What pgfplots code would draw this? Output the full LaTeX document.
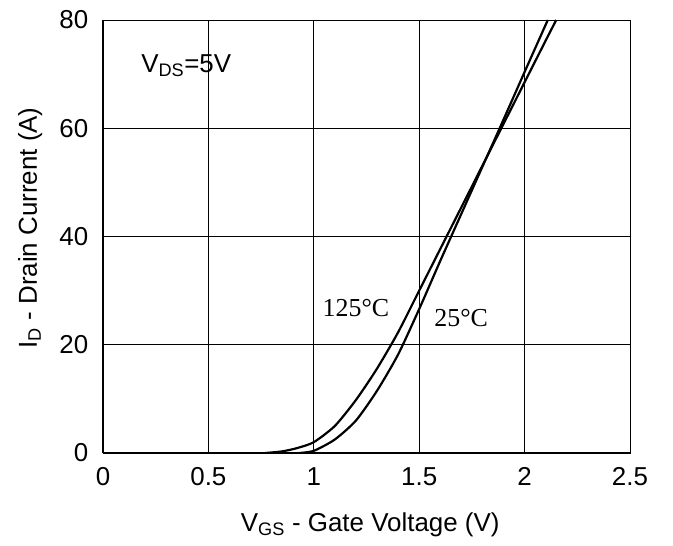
\documentclass[border=0pt]{standalone}
\usepackage{fontspec}
\setmainfont{Liberation Sans}
\newfontfamily\serifa{Liberation Serif}
\usepackage{pgfplots}
\pgfplotsset{compat=1.18}

\begin{document}
\fontsize{26}{30}\selectfont
\begin{tikzpicture}
\begin{axis}[
  scale only axis,
  width=527bp, height=433bp,
  xmin=0, xmax=2.5, ymin=0, ymax=80,
  xtick={0,0.5,1,1.5,2,2.5},
  xticklabels={0,0.5,1,1.5,2,2.5},
  ytick={0,20,40,60,80},
  /pgf/number format/assume math mode=true,
  grid=major,
  major grid style={black, line width=0.9pt},
  tick style={draw=none},
  axis line style={black, line width=0.9pt},
  yticklabel style={xshift=-6bp},
  xticklabel style={yshift=-6bp},
  xlabel={V\textsubscript{GS} - Gate Voltage (V)},
  ylabel={I\textsubscript{D} - Drain Current (A)},
  xlabel style={at={(axis description cs:0.507,-0.166)}, anchor=center},
  ylabel style={at={(axis description cs:-0.138,0.52)}, anchor=center},
  clip=true,
]
% 125 C
\addplot[black, line width=2.2pt, smooth, tension=0.4] coordinates {
  (0.77,0) (0.85,0.3) (0.92,0.9) (1.0,2.0) (1.1,5.0) (1.2,9.8)
  (1.3,15.6) (1.4,22.3) (1.5,30.0) (1.6,37.7) (1.7,45.4) (1.8,53.1)
  (1.9,60.8) (2.0,68.5) (2.1,76.2) (2.15,80)
};
% 25 C
\addplot[black, line width=2.2pt, smooth, tension=0.4] coordinates {
  (0.93,0) (1.0,0.4) (1.1,2.5) (1.2,6.0) (1.3,11.5) (1.4,18.2)
  (1.5,26.6) (1.6,35.5) (1.7,44.2) (1.8,52.9) (1.9,61.6)
  (2.0,70.4) (2.11,80)
};
\node[anchor=west] at (axis cs:0.14,71.5) {V\textsubscript{DS}=5V};
\node[anchor=center, font=\serifa] at (axis cs:1.2,26.8) {125\textdegree C};
\node[anchor=west, font=\serifa] at (axis cs:1.53,25.0) {25\textdegree C};
\end{axis}
\draw[black, line width=3pt] (0,0) -- (0,433bp);
\draw[black, line width=3pt] (0,0) -- (527bp,0);
\path (-103bp,-92bp) rectangle (570bp,453bp);
\end{tikzpicture}
\end{document}
